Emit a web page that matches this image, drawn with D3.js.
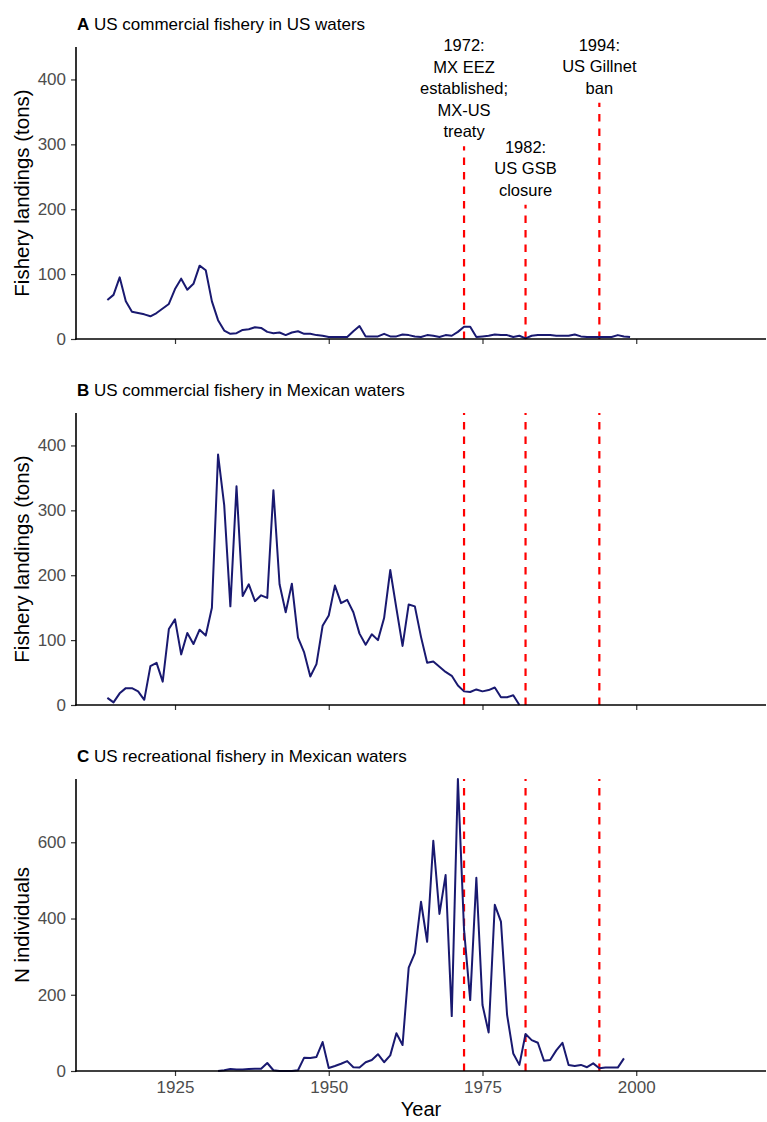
<!DOCTYPE html>
<html>
<head>
<meta charset="utf-8">
<script src="https://cdn.jsdelivr.net/npm/d3@7"></script>
<style>
  html, body { margin: 0; padding: 0; background: #fff; }
  svg { display: block; font-family: "Liberation Sans", Arial, Helvetica, sans-serif; }
</style>
</head>
<body>
<svg id="chart" width="767" height="1122"></svg>
<script>
// A: US commercial landings in US waters (tons), 1914-1999
const startUsCommercial = 1914;
const usWatersCommercial = [
  60, 68, 95, 58, 42, 40, 38, 35, 40, 47,
  54, 77, 93, 76, 85, 113, 106, 58, 29, 13,
  8, 9, 14, 15, 18, 17, 11, 9, 10, 6,
  10, 12, 8, 8, 6, 5, 3, 3, 3, 3,
  12, 20, 4, 4, 4, 8, 4, 4, 7, 6,
  4, 3, 6, 5, 3, 6, 5, 11, 19, 19,
  3, 4, 5, 7, 6, 6, 3, 5, 1, 5,
  6, 6, 6, 5, 5, 5, 7, 4, 3, 3,
  3, 3, 3, 6, 4, 3
];

// B: US commercial landings in Mexican waters (tons), 1914-1981
const startMxCommercial = 1914;
const mxWatersCommercial = [
  11, 4, 18, 26, 26, 21, 8, 60, 65, 36,
  117, 132, 78, 111, 94, 116, 107, 150, 386, 308,
  152, 337, 168, 186, 160, 169, 165, 331, 186, 143,
  187, 104, 81, 44, 63, 122, 138, 184, 157, 162,
  143, 110, 93, 109, 100, 134, 208, 149, 91, 155,
  152, 105, 65, 67, 59, 51, 45, 30, 21, 20,
  24, 21, 23, 27, 12, 12, 15, 0
];

// C: US recreational catch in Mexican waters (individuals), 1932-1998
const startMxRecreational = 1932;
const mxWatersRecreational = [
  0, 2,
  5, 4, 4, 5, 6, 6, 21, 2, 0, 0,
  0, 2, 35, 34, 37, 76, 8, 13, 19, 26,
  10, 9, 23, 29, 44, 23, 41, 99, 68, 271,
  309, 444, 339, 604, 412, 514, 144, 766, 370, 186,
  507, 173, 101, 436, 392, 147, 46, 16, 97, 81,
  74, 27, 29, 54, 74, 16, 13, 16, 10, 20,
  7, 9, 9, 9, 33
];

// Management events
const eventYears = [1972, 1982, 1994];
const eventLabels = [
  ["1972:", "MX EEZ", "established;", "MX-US", "treaty"],
  ["1982:", "US GSB", "closure"],
  ["1994:", "US Gillnet", "ban"]
];
const eventLabelHeights = [297, 207, 364];   // top of the marker in panel A (tons)

const xTicks = [1925, 1950, 1975, 2000];
const yTicksLandings = [0, 100, 200, 300, 400];
const yTicksIndividuals = [0, 200, 400, 600];
const yearRange = [1914, 2016];

const panels = [
  { letter: "A", title: "US commercial fishery in US waters", start: startUsCommercial, values: usWatersCommercial,
    yMax: 450, yTicks: yTicksLandings, yTitle: "Fishery landings (tons)", top: 47, labels: true, xLabels: false },
  { letter: "B", title: "US commercial fishery in Mexican waters", start: startMxCommercial, values: mxWatersCommercial,
    yMax: 450, yTicks: yTicksLandings, yTitle: "Fishery landings (tons)", top: 413, labels: false, xLabels: false },
  { letter: "C", title: "US recreational fishery in Mexican waters", start: startMxRecreational, values: mxWatersRecreational,
    yMax: d3.max(mxWatersRecreational), yTicks: yTicksIndividuals, yTitle: "N individuals", top: 779, labels: false, xLabels: true }
];

const svg = d3.select("#chart");
const left = 76, right = 766, panelH = 292;
const pad = (yearRange[1] - yearRange[0]) * 0.05;
const x = d3.scaleLinear().domain([yearRange[0] - pad, yearRange[1] + pad]).range([left, right]);

const navy = "#191970", red = "#ff0000", tickGrey = "#4d4d4d";

panels.forEach(p => {
  const bottom = p.top + panelH;
  const y = d3.scaleLinear().domain([0, p.yMax]).range([bottom, p.top]);
  const g = svg.append("g");

  // panel title
  const t = g.append("text").attr("x", left + 1).attr("y", p.top - 17)
    .attr("font-size", 17).attr("fill", "#000");
  t.append("tspan").attr("font-weight", "bold").text(p.letter);
  t.append("tspan").text(" " + p.title);

  // event markers
  eventYears.forEach((yr, i) => {
    const yTop = p.labels ? y(eventLabelHeights[i]) : p.top;
    g.append("line")
      .attr("x1", x(yr)).attr("x2", x(yr))
      .attr("y1", bottom).attr("y2", yTop)
      .attr("stroke", red).attr("stroke-width", 2.2)
      .attr("stroke-dasharray", "7.5,7");
    if (p.labels) {
      const lines = eventLabels[i];
      const lh = 21.5;
      const lab = g.append("text").attr("text-anchor", "middle")
        .attr("font-size", 16.5).attr("fill", "#000");
      lines.forEach((s, k) => {
        lab.append("tspan").attr("x", x(yr))
          .attr("y", yTop - 9 - (lines.length - 1 - k) * lh).text(s);
      });
    }
  });

  // series line
  const data = p.values.map((v, i) => [p.start + i, v]);
  g.append("path").datum(data)
    .attr("fill", "none").attr("stroke", navy).attr("stroke-width", 2)
    .attr("stroke-linejoin", "round")
    .attr("d", d3.line().x(d => x(d[0])).y(d => y(d[1])));

  // axes
  const yAxis = g.append("g").attr("transform", `translate(${left},0)`)
    .call(d3.axisLeft(y).tickValues(p.yTicks).tickSize(5).tickPadding(5).tickFormat(d3.format("d")));
  const xAxis = g.append("g").attr("transform", `translate(0,${bottom})`)
    .call(d3.axisBottom(x).tickValues(xTicks).tickSize(5).tickPadding(5)
      .tickFormat(p.xLabels ? d3.format("d") : () => ""));
  [yAxis, xAxis].forEach(a => {
    a.select(".domain").remove();
    a.selectAll(".tick line").attr("stroke", "#333").attr("stroke-width", 1.2);
    a.selectAll(".tick text").attr("fill", tickGrey).attr("font-size", 17)
      .attr("font-family", "\"Liberation Sans\", Arial, sans-serif");
  });
  g.append("line").attr("x1", left).attr("x2", left).attr("y1", p.top).attr("y2", bottom + 0.8)
    .attr("stroke", "#000").attr("stroke-width", 1.6);
  g.append("line").attr("x1", left - 0.8).attr("x2", right).attr("y1", bottom).attr("y2", bottom)
    .attr("stroke", "#000").attr("stroke-width", 1.6);

  // y axis title
  g.append("text").attr("transform", `translate(21,${(p.top + bottom) / 2}) rotate(-90)`)
    .attr("text-anchor", "middle").attr("dominant-baseline", "central")
    .attr("font-size", 20.5).attr("fill", "#000").text(p.yTitle);
});

// x axis title
svg.append("text").attr("x", (left + right) / 2).attr("y", 1116)
  .attr("text-anchor", "middle").attr("font-size", 20).attr("fill", "#000").text("Year");
</script>
</body>
</html>
